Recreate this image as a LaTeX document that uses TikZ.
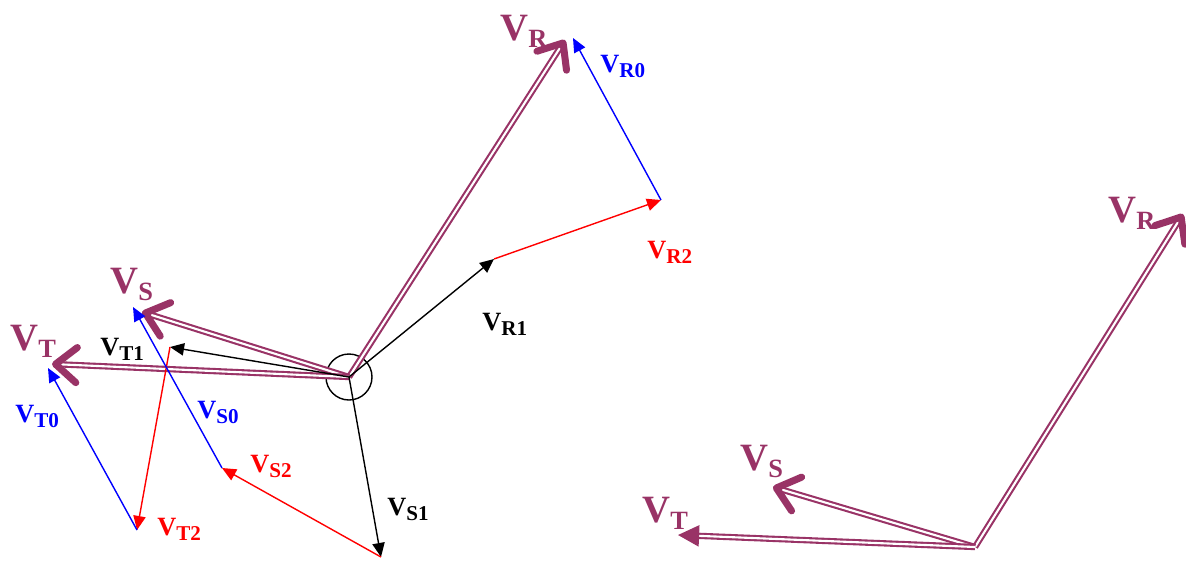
\documentclass[tikz,border=0pt]{standalone}
\usepackage{fontspec}
\setmainfont{Liberation Serif}
\usetikzlibrary{arrows.meta}
\definecolor{plum}{HTML}{993366}
\newcommand{\Vbig}[1]{\fontsize{22}{22}\selectfont\bfseries V\raisebox{-4pt}{\fontsize{15}{15}\selectfont #1}}
\newcommand{\Vsmall}[1]{\fontsize{15}{15}\selectfont\bfseries V\raisebox{-3pt}{\fontsize{12}{12}\selectfont #1}}
\begin{document}
\begin{tikzpicture}[
    phasor/.style={plum, line width=1.2pt, double=white, double distance=1.2pt,
        -{Straight Barb[length=12pt,width=20pt,line width=4pt,round]}},
    phasortri/.style={plum, line width=1.2pt, double=white, double distance=1.2pt,
        -{Triangle[length=12pt,width=12pt]}},
    comp/.style={line width=0.8pt, -{Triangle[length=8pt,width=7pt]}},
    lbl/.style={anchor=base west, inner sep=0pt}]
    \useasboundingbox (0,0) rectangle (23.72,-11.22);

    % left: components
    \coordinate (O) at (6.98,-7.54);
    \coordinate (R1) at (9.88,-5.18);
    \coordinate (R2) at (13.22,-4.00);
    \coordinate (R) at (11.46,-0.76);
    \coordinate (S1) at (7.62,-11.14);
    \coordinate (S2) at (4.44,-9.36);
    \coordinate (S) at (2.66,-6.14);
    \coordinate (T1) at (3.40,-6.94);
    \coordinate (T2) at (2.74,-10.60);
    \coordinate (T) at (0.96,-7.36);
    \coordinate (VR) at (11.30,-0.80);
    \coordinate (VS) at (2.84,-6.24);
    \coordinate (VT) at (1.04,-7.28);

    \draw[line width=0.8pt] (O) circle (0.46);

    \draw[phasor] (O) -- (VR);
    \draw[phasor] (O) -- (VS);
    \draw[phasor] (O) -- (VT);

    \draw[comp] (O) -- (R1);
    \draw[comp] (O) -- (S1);
    \draw[comp] (O) -- (T1);
    \draw[comp, red] (R1) -- (R2);
    \draw[comp, red] (S1) -- (S2);
    \draw[comp, red] (T1) -- (T2);
    \draw[comp, blue] (R2) -- (R);
    \draw[comp, blue] (S2) -- (S);
    \draw[comp, blue] (T2) -- (T);

    \node[lbl, plum] (lVR) at (10.00,-0.80) {\Vbig{R}};
    \node[lbl, plum] (lVS) at (2.20,-5.86) {\Vbig{S}};
    \node[lbl, plum] (lVT) at (0.20,-7.00) {\Vbig{T}};
    \node[lbl] (lR1) at (9.64,-6.60) {\Vsmall{R1}};
    \node[lbl] (lS1) at (7.74,-10.30) {\Vsmall{S1}};
    \node[lbl] (lT1) at (2.00,-7.10) {\Vsmall{T1}};
    \node[lbl, red] (lR2) at (12.94,-5.16) {\Vsmall{R2}};
    \node[lbl, red] (lS2) at (5.00,-9.44) {\Vsmall{S2}};
    \node[lbl, red] (lT2) at (3.14,-10.70) {\Vsmall{T2}};
    \node[lbl, blue] (lR0) at (12.00,-1.44) {\Vsmall{R0}};
    \node[lbl, blue] (lS0) at (3.94,-8.36) {\Vsmall{S0}};
    \node[lbl, blue] (lT0) at (0.30,-8.44) {\Vsmall{T0}};

    % right: resulting phasors
    \coordinate (O2) at (19.50,-10.94);
    \coordinate (VR2) at (23.66,-4.28);
    \coordinate (VS2) at (15.46,-9.74);
    \coordinate (VT2) at (13.56,-10.70);

    \draw[phasor] (O2) -- (VR2);
    \draw[phasor] (O2) -- (VS2);
    \draw[phasortri] (O2) -- (VT2);

    \node[lbl, plum] (rVR) at (22.16,-4.44) {\Vbig{R}};
    \node[lbl, plum] (rVS) at (14.80,-9.40) {\Vbig{S}};
    \node[lbl, plum] (rVT) at (12.84,-10.44) {\Vbig{T}};
\end{tikzpicture}
\end{document}
